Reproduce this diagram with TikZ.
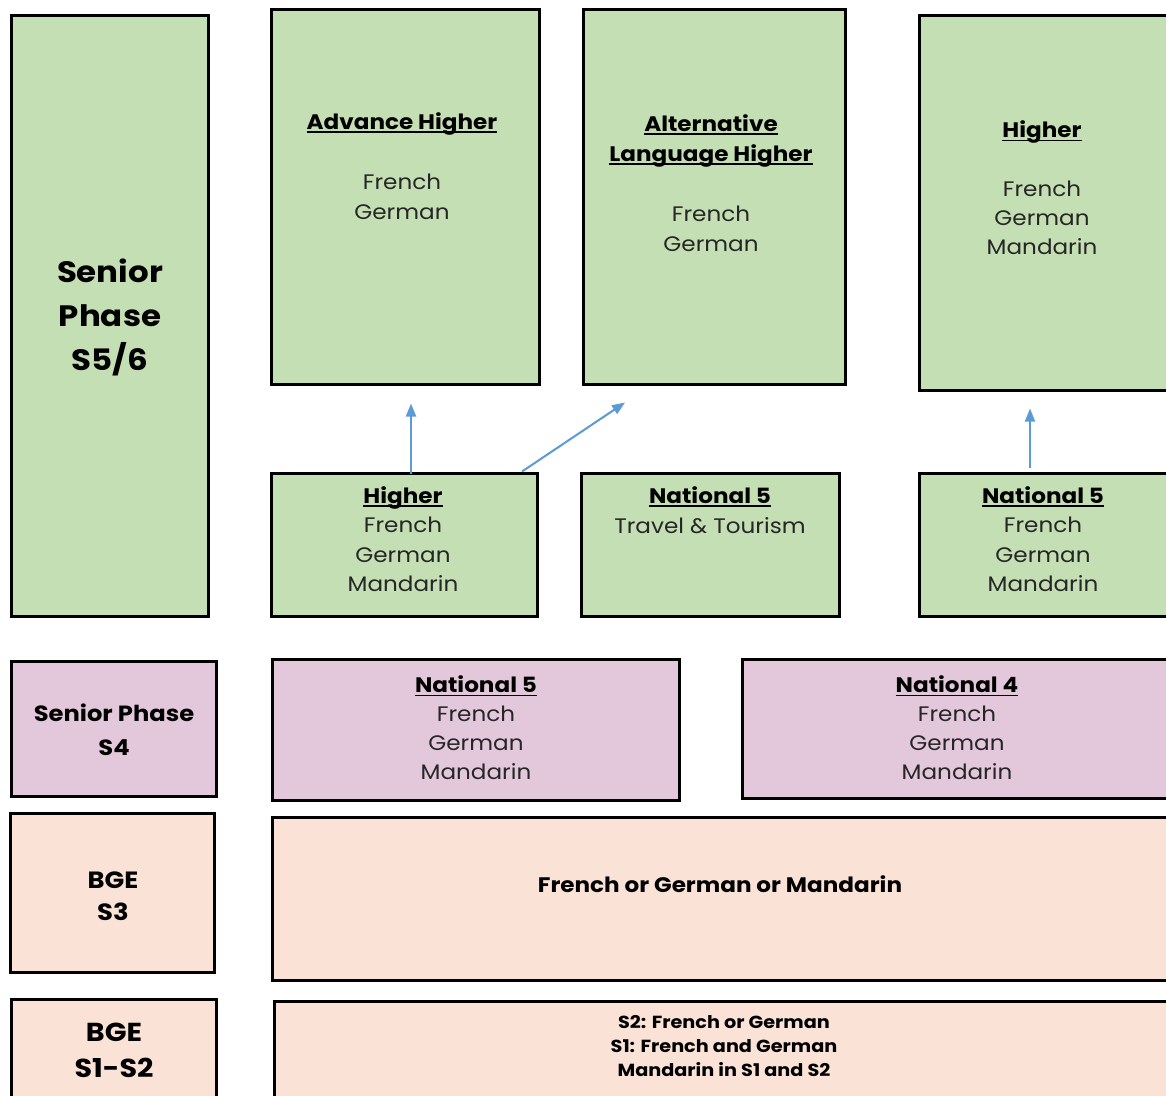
\documentclass[tikz,border=0pt]{standalone}
\usepackage{fontspec}
\setmainfont{Poppins}[FakeStretch=1.1]
\usetikzlibrary{calc,arrows.meta}
\definecolor{gr}{HTML}{C5DFB4}
\definecolor{pu}{HTML}{E3C8DC}
\definecolor{pe}{HTML}{FAE3D6}
\definecolor{ab}{HTML}{5B9BD5}
\definecolor{body}{HTML}{262626}
\newcommand\ul[1]{\setbox0\hbox{#1}\leavevmode\rlap{\rule[-3.5pt]{\wd0}{1.6pt}}\box0}
\newcommand\hd[1]{{\bfseries\color{black}\ul{#1}}}
\tikzset{
  box/.style={draw=black, line width=3pt, inner sep=0pt, outer sep=0pt},
  txt/.style={align=center, text=body, inner sep=0pt, font=\fontsize{21}{30}\selectfont},
  lbl/.style={align=center, text=black, inner sep=0pt},
  arr/.style={draw=ab, line width=2pt, -{Triangle[length=13pt,width=10pt]}}
}
\begin{document}
\begin{tikzpicture}[x=1pt,y=-1pt]
\useasboundingbox (0,0) rectangle (1166,1095);
\clip (0,0) rectangle (1166,1095);
% boxes
\node[box, fill=gr, minimum width=197pt, minimum height=601pt] (sp56) at (110,316) {};
\node[box, fill=gr, minimum width=268pt, minimum height=375pt] (ah) at (405.5,197) {};
\node[box, fill=gr, minimum width=262pt, minimum height=375pt] (alh) at (714.5,197) {};
\node[box, fill=gr, minimum width=259pt, minimum height=375pt] (hr) at (1049,203) {};
\node[box, fill=gr, minimum width=266pt, minimum height=143pt] (hl) at (404.5,545) {};
\node[box, fill=gr, minimum width=258pt, minimum height=143pt] (n5t) at (710.5,545) {};
\node[box, fill=gr, minimum width=259pt, minimum height=143pt] (n5r) at (1049,545) {};
\node[box, fill=pu, minimum width=205pt, minimum height=135pt] (sp4) at (114,729) {};
\node[box, fill=pu, minimum width=407pt, minimum height=141pt] (n5p) at (476,730) {};
\node[box, fill=pu, minimum width=436pt, minimum height=139pt] (n4) at (960.5,729) {};
\node[box, fill=pe, minimum width=204pt, minimum height=159pt] (bge3) at (112.5,893) {};
\node[box, fill=pe, minimum width=906pt, minimum height=163pt] (fgm) at (725.5,899) {};
\node[box, fill=pe, minimum width=205pt, minimum height=109pt] (bge12) at (114,1054) {};
\node[box, fill=pe, minimum width=904pt, minimum height=107pt] (s12) at (726.5,1055) {};
% texts
\node[lbl, font=\bfseries\fontsize{29.5}{44}\selectfont] (t-sp56) at (110,317) {Senior\\Phase\\S5/6};
\node[txt] (t-ah) at (402,166) {\hd{Advance Higher}\\[30pt]French\\German};
\node[txt] (t-alh) at (711,183) {\hd{Alternative}\\\hd{Language Higher}\\[30pt]French\\German};
\node[txt, font=\fontsize{21}{29}\selectfont] (t-hr) at (1042,188) {\hd{Higher}\\[30pt]French\\German\\Mandarin};
\node[txt, font=\fontsize{21}{29.5}\selectfont] (t-hl) at (403,539) {\hd{Higher}\\French\\German\\Mandarin};
\node[txt] (t-n5t) at (710,510) {\hd{National 5}\\Travel \& Tourism};
\node[txt, font=\fontsize{21}{29.5}\selectfont] (t-n5r) at (1043,539) {\hd{National 5}\\French\\German\\Mandarin};
\node[lbl, font=\bfseries\fontsize{22}{34}\selectfont] (t-sp4) at (114,730) {Senior Phase\\S4};
\node[txt, font=\fontsize{21}{29}\selectfont] (t-n5p) at (476,728) {\hd{National 5}\\French\\German\\Mandarin};
\node[txt, font=\fontsize{21}{29}\selectfont] (t-n4) at (957,728) {\hd{National 4}\\French\\German\\Mandarin};
\node[lbl, font=\bfseries\fontsize{23.5}{32}\selectfont] (t-bge3) at (113,896) {BGE\\S3};
\node[lbl, font=\bfseries\fontsize{21}{30}\selectfont] (t-fgm) at (720,884) {French or German or Mandarin};
\node[lbl, font=\bfseries\fontsize{26}{36}\selectfont] (t-bge12) at (114,1050) {BGE\\S1-S2};
\node[lbl, font=\bfseries\fontsize{17.5}{24}\selectfont] (t-s12) at (724,1046) {S2: French or German\\S1: French and German\\Mandarin in S1 and S2};
% arrows
\draw[arr] ($(hl.north)+(6.5,0)$) -- ($(ah.south)+(5.5,19)$);
\draw[arr] ($(hl.north)+(117.5,-2)$) -- ($(alh.south)+(-89.5,18)$);
\draw[arr] ($(n5r.north)+(-19,-6)$) -- ($(hr.south)+(-19,18)$);
\end{tikzpicture}
\end{document}
